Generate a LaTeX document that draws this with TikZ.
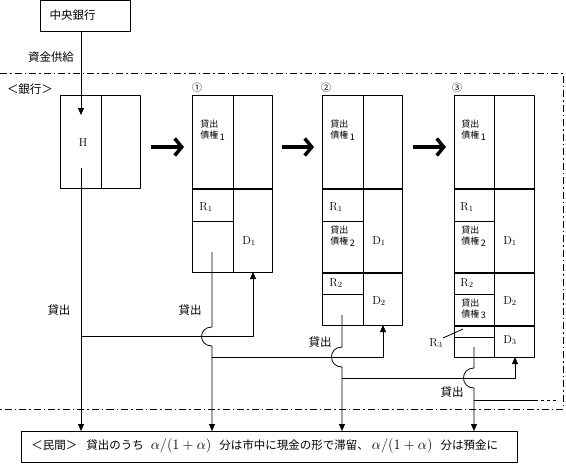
\documentclass[tikz,border=0pt]{standalone}
\usepackage{fontspec}
\newfontfamily\jp{Noto Sans CJK JP}
\usetikzlibrary{arrows.meta}
\tikzset{
  frame/.style={line width=0.8pt, dash pattern=on 7pt off 3pt on 1.5pt off 3pt},
  sepline/.style={line width=2.2pt},
  bigarrow/.style={line width=3.5pt, -{Straight Barb[length=7pt,width=17pt]}},
  small/.style={font=\jp\fontsize{9}{11}\selectfont, align=left, inner sep=0pt},
  num/.style={font=\jp\fontsize{10}{12}\selectfont, inner sep=0pt},
  lbl/.style={inner sep=0pt}
}
\newcommand{\loanlbl}[1]{貸出\\債権\,\raisebox{-1.5pt}{#1}}
\newcommand{\ratio}{{\fontsize{13.5}{15}\selectfont$\alpha/(1+\alpha)$}}
\begin{document}
\begin{tikzpicture}[x=1pt, y=-1pt, line width=0.8pt, font=\jp\fontsize{11.5}{13}\selectfont, line join=round, >={Triangle[length=7pt,width=6pt]}]
\useasboundingbox (0,0) rectangle (566,464);
%%%%%%%%%%%%%%%%%%%%%%%%%%%%%%%%%
\coordinate (hin) at (81,115);
\coordinate (a1) at (81,168);
\coordinate (a2) at (81,336);
\coordinate (a3) at (253,336);
\coordinate (a4) at (253,272);
\coordinate (b1) at (212,252);
\coordinate (b2) at (212,327);
\coordinate (b3) at (212,346);
\coordinate (b4) at (212,357);
\coordinate (b5) at (383,357);
\coordinate (b6) at (383,325);
\coordinate (c1) at (342,315);
\coordinate (c2) at (342,347);
\coordinate (c3) at (342,367);
\coordinate (c4) at (342,378);
\coordinate (c5) at (515,378);
\coordinate (c6) at (515,357);
\coordinate (e1) at (474,347);
\coordinate (e2) at (474,368);
\coordinate (e3) at (474,388);
\coordinate (e4) at (474,400);
\coordinate (e5) at (535,400);
\coordinate (e6) at (556,400);
%%%%%%%%%%%%%%%%%%%%%%%%%%%%%%%%%
% frame of the bank sector
\draw[frame] (0,73) -- (563,73) -- (563,409) -- (0,409);
\node (bank) at (30,89) {＜銀行＞};
% central bank
\draw (40,0.5) rectangle (130,31);
\node[anchor=west] (cb) at (46,15) {中央銀行};
\coordinate (cbs) at (81,31);
\node (supply) at (51,57) {資金供給};
%%%%%%%%%%%%%%%%%%%%%%%%%%%%%%%%%
% balance sheets
\draw (60,95) rectangle (140,188);
\draw (101,95) -- (101,188);
\node[lbl] (H) at (83,143) {$\mathrm{H}$};
%
\draw (192,95) rectangle (272,272);
\draw (233,95) -- (233,272);
\draw[sepline] (192,189) -- (272,189);
\draw (192,221) -- (233,221);
%
\draw (322,95) rectangle (402,325);
\draw (363,95) -- (363,325);
\draw[sepline] (322,189) -- (402,189);
\draw[sepline] (322,273) -- (402,273);
\draw (322,221) -- (363,221);
\draw (322,294) -- (363,294);
%
\draw (454,95) rectangle (534,357);
\draw (494,95) -- (494,357);
\draw[sepline] (454,189) -- (534,189);
\draw[sepline] (454,273) -- (534,273);
\draw[sepline] (454,326) -- (534,326);
\draw (454,221) -- (494,221);
\draw (454,294) -- (494,294);
\draw (454,337) -- (494,337);
%%%%%%%%%%%%%%%%%%%%%%%%%%%%%%%%%
\node[num] (n1) at (197,88) {①};
\node[num] (n2) at (326,88) {②};
\node[num] (n3) at (457,88) {③};
\node[small, anchor=west] (l11) at (200,130) {\loanlbl{1}};
\node[small, anchor=west] (l21) at (330,130) {\loanlbl{1}};
\node[small, anchor=west] (l31) at (461,130) {\loanlbl{1}};
\node[small, anchor=west] (l22) at (330,236) {\loanlbl{2}};
\node[small, anchor=west] (l32) at (461,236) {\loanlbl{2}};
\node[small, anchor=west] (l33) at (461,309) {\loanlbl{3}};
\node[lbl] (r11) at (206,207) {$\mathrm{R}_1$};
\node[lbl] (r21) at (336,207) {$\mathrm{R}_1$};
\node[lbl] (r31) at (467,207) {$\mathrm{R}_1$};
\node[lbl] (r22) at (336,283) {$\mathrm{R}_2$};
\node[lbl] (r32) at (467,283) {$\mathrm{R}_2$};
\node[lbl] (r33) at (436,343) {$\mathrm{R}_3$};
\node[lbl] (d11) at (249,241) {$\mathrm{D}_1$};
\node[lbl] (d21) at (379,241) {$\mathrm{D}_1$};
\node[lbl] (d31) at (510,241) {$\mathrm{D}_1$};
\node[lbl] (d22) at (379,301) {$\mathrm{D}_2$};
\node[lbl] (d32) at (510,301) {$\mathrm{D}_2$};
\node[lbl] (d33) at (510,340) {$\mathrm{D}_3$};
\coordinate (r3a) at (443,338);
\coordinate (r3b) at (463,329);
\draw (r3a) -- (r3b);
%%%%%%%%%%%%%%%%%%%%%%%%%%%%%%%%%
\draw[bigarrow] (151,147) -- (184,147);
\draw[bigarrow] (282,147) -- (314,147);
\draw[bigarrow] (413,147) -- (446,147);
%%%%%%%%%%%%%%%%%%%%%%%%%%%%%%%%%
% private sector
\draw (21,431) rectangle (517,462);
\node[anchor=west, inner sep=0pt] (priv) at (31,446) {＜民間＞\hspace{9pt}貸出のうち\hspace{7pt}\ratio\hspace{8pt}分は市中に現金の形で滞留、\hspace{3pt}\ratio\hspace{8pt}分は預金に};
\coordinate (p1) at (81,431);
\coordinate (p2) at (212,431);
\coordinate (p3) at (342,431);
\coordinate (p4) at (474,431);
%%%%%%%%%%%%%%%%%%%%%%%%%%%%%%%%%
% money flows
\draw[->] (cbs) -- (hin);
\draw[->] (a1) -- (p1);
\draw[->] (a2) -- (a3) -- (a4);
\draw[->] (b1) -- (b2) .. controls (198,327) and (198,346) .. (b3) -- (p2);
\draw[->] (b4) -- (b5) -- (b6);
\draw[->] (c1) -- (c2) .. controls (328,347) and (328,367) .. (c3) -- (p3);
\draw[->] (c4) -- (c5) -- (c6);
\draw[->] (e1) -- (e2) .. controls (460,368) and (460,388) .. (e3) -- (p4);
\draw (e4) -- (e5);
\draw[dashed] (e5) -- (e6);
\node (loan1) at (59,310) {貸出};
\node (loan2) at (190,310) {貸出};
\node (loan3) at (320,342) {貸出};
\node (loan4) at (452,392) {貸出};
\end{tikzpicture}
\end{document}
